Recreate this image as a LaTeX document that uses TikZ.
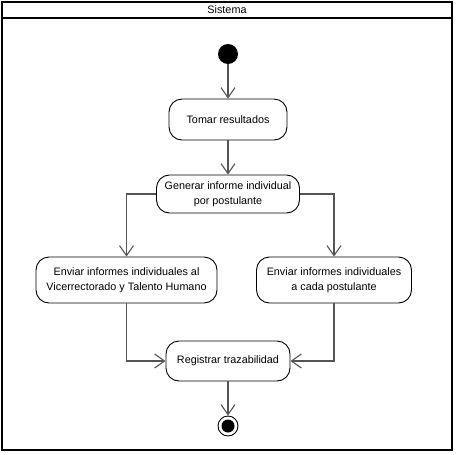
\documentclass[tikz,border=0pt]{standalone}
\usepackage{fontspec}
\setmainfont{Liberation Sans}
\usetikzlibrary{arrows.meta}
\definecolor{flowgray}{RGB}{85,85,85}
\begin{document}
\begin{tikzpicture}[x=1pt,y=-1pt,
  action/.style={draw=black, line width=0.9pt, rounded corners=13pt, fill=white,
    align=center, inner sep=0pt, font=\fontsize{10.8}{15}\selectfont},
  flow/.style={draw=flowgray, line width=1.4pt,
    -{Straight Barb[length=10pt,width=14pt,line width=1.1pt]}},
  lbl/.style={font=\fontsize{10.8}{13}\selectfont, inner sep=0pt}
]
\useasboundingbox (0,0) rectangle (458,455);

% swimlane frame with title bar
\draw[line width=2pt] (2,2) rectangle (452,450);
\draw[line width=2pt] (2,17.5) -- (452,17.5);
\node[lbl] (lane) at (227,10) {Sistema};

% initial and final states
\node[circle, fill=black, minimum size=20pt, inner sep=0pt] (start) at (228,54) {};
\node[circle, draw=black, line width=0.9pt, fill=white, minimum size=20pt, inner sep=0pt] (stop) at (228,426) {};
\node[circle, fill=black, minimum size=13pt, inner sep=0pt] (stopdot) at (stop.center) {};

% actions
\node[action, minimum width=118pt, minimum height=41pt] (tomar) at (228,119.5) {Tomar resultados};
\node[action, minimum width=143pt, minimum height=38pt] (gen) at (228,194) {Generar informe individual\\por postulante};
\node[action, minimum width=181pt, minimum height=46pt] (vice) at (126.5,280) {Enviar informes individuales al\\Vicerrectorado y Talento Humano};
\node[action, minimum width=155pt, minimum height=46pt] (cada) at (334,280) {Enviar informes individuales\\a cada postulante};
\node[action, minimum width=124pt, minimum height=40pt] (reg) at (228,361) {Registrar trazabilidad};

% control flows
\draw[flow] (start) -- (tomar);
\draw[flow] (tomar) -- (gen);
\draw[flow] (gen.west) -| (vice.north);
\draw[flow] (gen.east) -| (cada.north);
\draw[flow] (vice.south) |- (reg.west);
\draw[flow] (cada.south) |- (reg.east);
\draw[flow] (reg) -- (stop);
\end{tikzpicture}
\end{document}
